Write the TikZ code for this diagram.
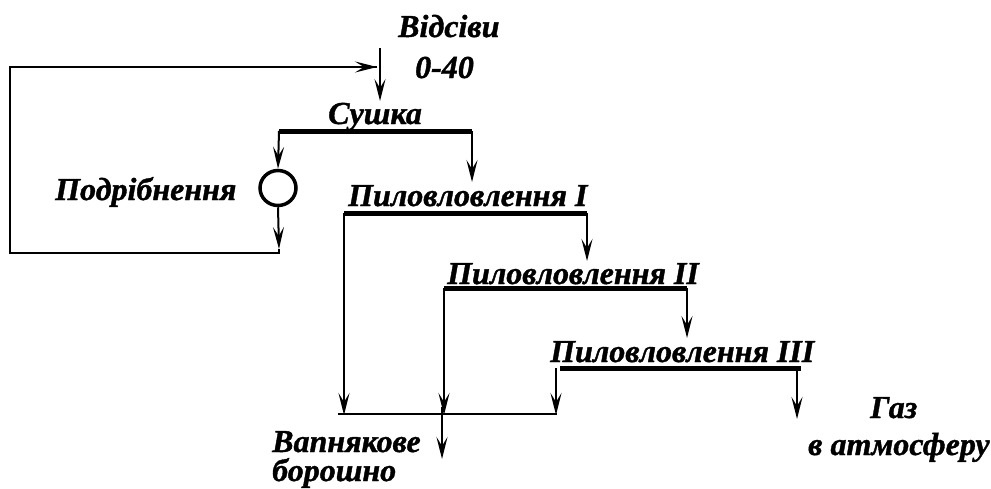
\documentclass[tikz,border=0pt]{standalone}
\usepackage{fontspec}
\setmainfont{Liberation Serif}
\newfontfamily\lblfont{Liberation Serif}[BoldItalicFeatures={FakeBold=1.2}]
\usetikzlibrary{arrows.meta,shapes.geometric}
\begin{document}
\begin{tikzpicture}[x=1pt,y=-1pt,
  flow/.style={line width=2pt,-{Stealth[length=22pt,width=11pt,inset=9pt]}},
  plain/.style={line width=2pt},
  bar/.style={line width=5pt},
  lbl/.style={font=\lblfont\fontsize{32}{34}\selectfont\bfseries\itshape,inner sep=0pt,anchor=base west},
  mill/.style={draw,line width=3.5pt,ellipse,minimum width=36pt,minimum height=35pt,inner sep=0pt}]
\useasboundingbox (0,0) rectangle (991,488);
% labels
\node[lbl] (tin) at (398,37) {Відсіви};
\node[lbl] (tin2) at (415,78) {0-40};
\node[lbl] (tdry) at (328,124) {Сушка};
\node[lbl] (tmill) at (55,200) {Подрібнення};
\node[lbl] (tp1) at (348,206) {Пиловловлення I};
\node[lbl] (tp2) at (447,284) {Пиловловлення II};
\node[lbl] (tp3) at (550,362) {Пиловловлення III};
\node[lbl] (tgas) at (870,418) {Газ};
\node[lbl] (tgas2) at (808,455) {в атмосферу};
\node[lbl] (tflour) at (272,452) {Вапнякове};
\node[lbl] (tflour2) at (272,481) {борошно};
% coordinates
\coordinate (fin) at (380,48);
\coordinate (fout) at (380,101);
\coordinate (d1) at (279,131); \coordinate (d2) at (472,131);
\node[mill] (m) at (278,188) {};
\coordinate (mb) at (279,249); \coordinate (lp1) at (279,253);
\coordinate (lp2) at (10,253); \coordinate (lp3) at (10,67); \coordinate (lp4) at (377,67);
\coordinate (d2e) at (472,182);
\coordinate (p1a) at (344,213); \coordinate (p1b) at (587,213);
\coordinate (p1ae) at (344,415); \coordinate (p1be) at (587,261);
\coordinate (p2a) at (444,288); \coordinate (p2b) at (687,288);
\coordinate (p2ae) at (444,415); \coordinate (p2be) at (687,338);
\coordinate (p3a) at (560,368); \coordinate (p3b) at (801,368);
\coordinate (p3l) at (556,368); \coordinate (p3le) at (556,415);
\coordinate (p3r) at (797,368); \coordinate (p3re) at (797,419);
\coordinate (c1) at (338,414); \coordinate (c2) at (557,414);
\coordinate (o1) at (442,407); \coordinate (o2) at (442,459);
% connectors
\draw[flow] (fin) -- (fout);
\draw[flow] (d1) -- (m.north);
\draw[flow] (m.south) -- (mb);
\draw[plain] (mb) -- (lp1) -- (lp2) -- (lp3) -- (lp4);
\draw[flow] (lp3) -- (lp4);
\draw[flow] (d2) -- (d2e);
\draw[flow] (p1a) -- (p1ae);
\draw[flow] (p1b) -- (p1be);
\draw[flow] (p2a) -- (p2ae);
\draw[flow] (p2b) -- (p2be);
\draw[flow] (p3l) -- (p3le);
\draw[flow] (p3r) -- (p3re);
\draw[plain] (c1) -- (c2);
\draw[flow] (o1) -- (o2);
% bars
\draw[bar] (d1) -- (d2);
\draw[bar] (p1a) -- (p1b);
\draw[bar] (p2a) -- (p2b);
\draw[bar] (p3a) -- (p3b);
\end{tikzpicture}
\end{document}
